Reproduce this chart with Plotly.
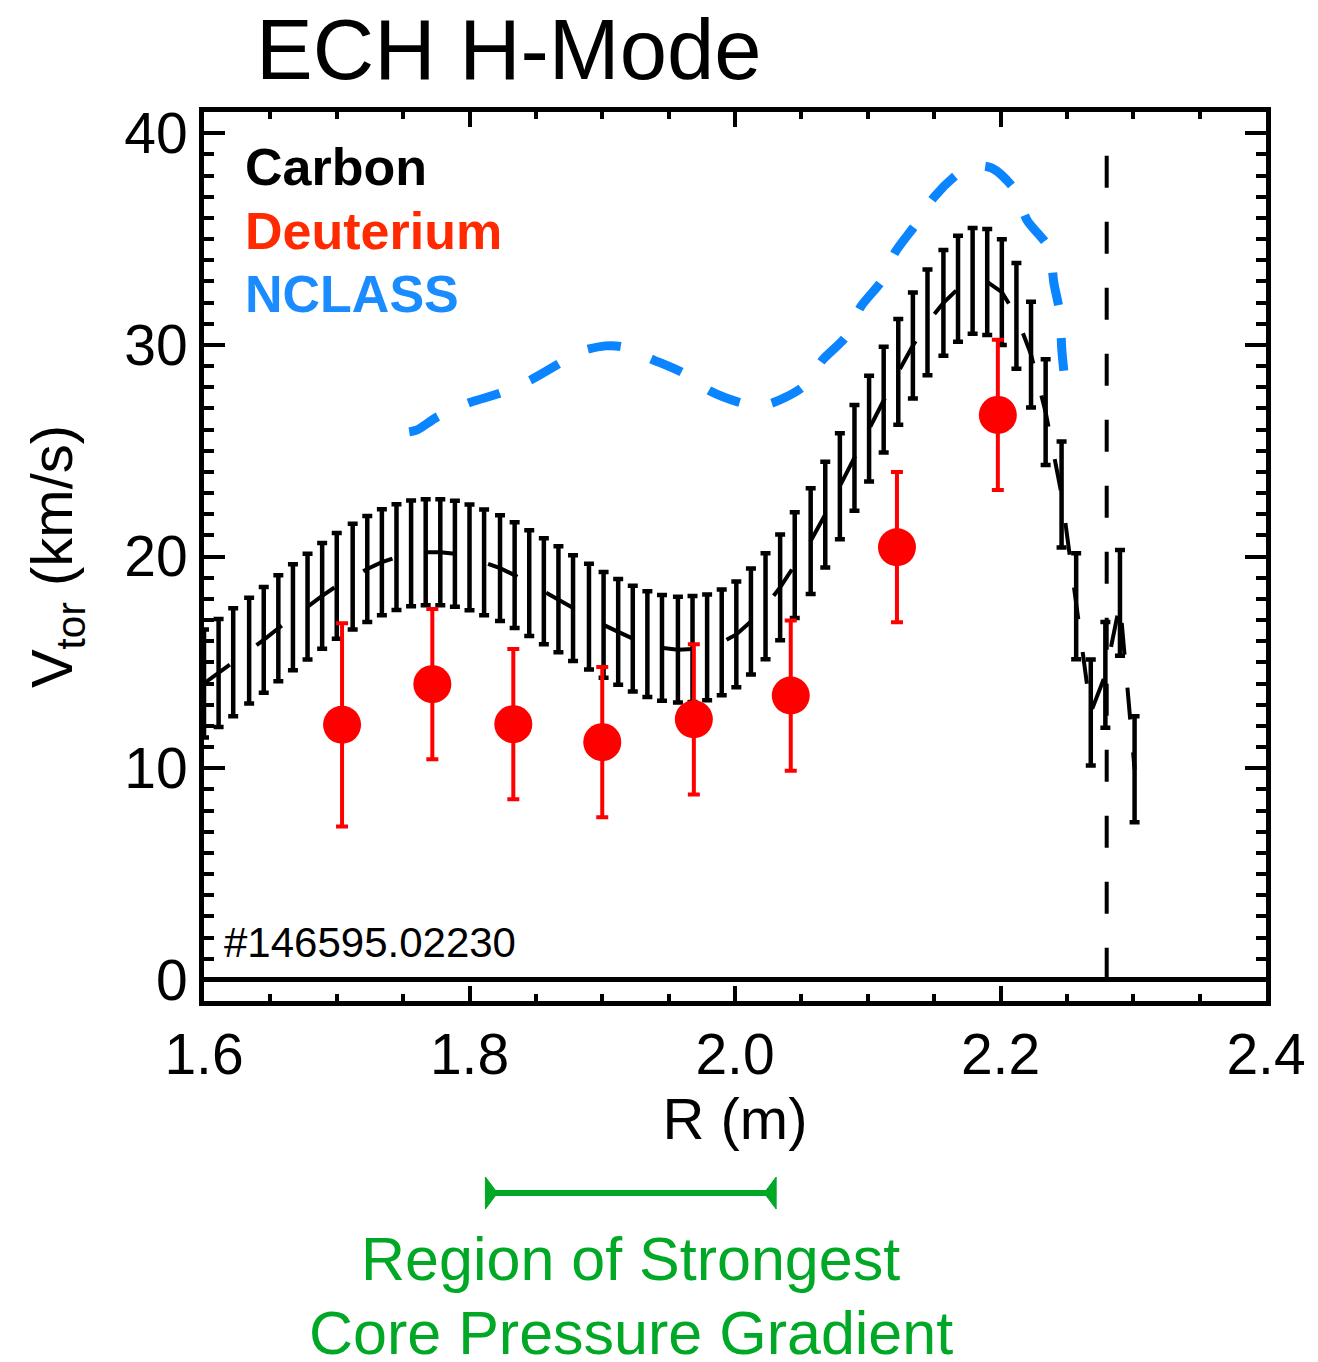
import plotly.graph_objects as go

# ---- Carbon toroidal rotation (CER), km/s, with uncertainties ----
carbon_r = [1.600, 1.611, 1.622, 1.634, 1.645, 1.656, 1.667, 1.678, 1.689, 1.700,
            1.712, 1.723, 1.734, 1.745, 1.756, 1.767, 1.778, 1.789, 1.800, 1.811,
            1.823, 1.834, 1.845, 1.856, 1.867, 1.878, 1.890, 1.901, 1.912, 1.923,
            1.934, 1.945, 1.957, 1.968, 1.979, 1.990, 2.001, 2.012, 2.023, 2.034,
            2.045, 2.057, 2.068, 2.079, 2.090, 2.101, 2.112, 2.123, 2.134, 2.145,
            2.157, 2.168, 2.179, 2.190, 2.201, 2.212, 2.223, 2.234, 2.246, 2.257,
            2.268, 2.279, 2.290, 2.301]
carbon_v = [14.0, 14.5, 15.0, 15.55, 16.06, 16.61, 17.13, 17.63, 18.14, 18.61,
            19.05, 19.41, 19.73, 19.97, 20.15, 20.20, 20.20, 20.13, 19.96, 19.72,
            19.45, 19.12, 18.74, 18.36, 17.98, 17.56, 17.16, 16.77, 16.44, 16.12,
            15.86, 15.68, 15.60, 15.63, 15.71, 15.94, 16.32, 16.93, 17.65, 18.54,
            19.59, 20.73, 21.98, 23.32, 24.66, 26.04, 27.41, 28.72, 29.97, 31.06,
            31.98, 32.65, 33.02, 32.97, 32.49, 31.37, 29.54, 26.82, 22.93, 17.65,
            12.63, 14.41, 17.81, 9.95]
carbon_err = [2.55, 2.55, 2.55, 2.5, 2.5, 2.5, 2.5, 2.5, 2.5, 2.5,
              2.5, 2.5, 2.5, 2.5, 2.5, 2.5, 2.5, 2.5, 2.5, 2.5,
              2.5, 2.5, 2.5, 2.5, 2.5, 2.5, 2.5, 2.5, 2.5, 2.5,
              2.5, 2.5, 2.5, 2.5, 2.5, 2.5, 2.5, 2.5, 2.5, 2.5,
              2.5, 2.5, 2.5, 2.5, 2.5, 2.5, 2.5, 2.5, 2.5, 2.5,
              2.5, 2.5, 2.5, 2.5, 2.5, 2.5, 2.5, 2.5, 2.5, 2.5,
              2.5, 2.5, 2.5, 2.5]

# ---- Main-ion (deuterium) rotation ----
deut_r = [1.704, 1.772, 1.833, 1.900, 1.969, 2.042, 2.122, 2.198]
deut_v = [12.05, 13.97, 12.08, 11.23, 12.31, 13.43, 20.44, 26.69]
deut_err = [4.8, 3.55, 3.55, 3.55, 3.55, 3.55, 3.55, 3.55]

# ---- NCLASS neoclassical prediction ----
nclass_r = [1.7546, 1.7606, 1.7756, 1.7996, 1.8236, 1.8461, 1.8672, 1.8822,
            1.9024, 1.9159, 1.9370, 1.9610, 1.9812, 2.0045, 2.0173, 2.0285,
            2.0510, 2.0660, 2.0833, 2.0946, 2.1111, 2.1208, 2.1358, 2.1501,
            2.1688, 2.1820, 2.1936, 2.2109, 2.2199, 2.2364, 2.2402, 2.2447,
            2.2462, 2.2484]
nclass_v = [25.89, 25.98, 26.59, 27.26, 27.73, 28.34, 29.10, 29.66,
            29.95, 29.90, 29.33, 28.67, 27.82, 27.26, 27.11, 27.26,
            28.01, 29.29, 30.37, 31.79, 33.07, 34.39, 35.66, 36.99,
            38.12, 38.45, 38.35, 37.32, 35.90, 34.58, 32.92, 31.51,
            29.76, 28.34]

# vertical reference line (plasma edge) and the strong-gradient span
edge_r = 2.28
edge_v = [0, 40]
gradient_span = [1.812, 2.031]

x_ticks = [1.6, 1.8, 2.0, 2.2, 2.4]
y_ticks = [0, 10, 20, 30, 40]

FONT = "Liberation Sans, Arial, Helvetica, sans-serif"
RED = "#FF0000"
BLUE = "#0A84FF"
GREEN = "#00A826"

fig = go.Figure()

fig.add_trace(go.Scatter(
    x=[edge_r, edge_r], y=edge_v, mode="lines",
    line=dict(color="black", width=4, dash="32px,34px"),
    showlegend=False, hoverinfo="skip"))

fig.add_trace(go.Scatter(
    x=carbon_r, y=carbon_v, mode="lines", name="Carbon",
    line=dict(color="black", width=4, dash="32px,33px"),
    error_y=dict(type="data", array=carbon_err, visible=True,
                 color="black", thickness=4.5, width=5),
    showlegend=False))

fig.add_trace(go.Scatter(
    x=deut_r, y=deut_v, mode="markers", name="Deuterium",
    marker=dict(color=RED, size=38, symbol="circle", line=dict(width=0)),
    error_y=dict(type="data", array=deut_err, visible=True,
                 color=RED, thickness=4, width=6),
    showlegend=False))

fig.add_trace(go.Scatter(
    x=nclass_r, y=nclass_v, mode="lines", name="NCLASS",
    line=dict(color=BLUE, width=9, dash="33px,33px", shape="spline", smoothing=0.8),
    showlegend=False))

# green span marker below the axis
bar_y = -0.216
fig.add_shape(type="line", xref="x", yref="paper",
              x0=gradient_span[0], x1=gradient_span[1], y0=bar_y, y1=bar_y,
              line=dict(color=GREEN, width=6))
fig.add_shape(type="path", xref="x", yref="paper",
              xsizemode="pixel", ysizemode="pixel",
              xanchor=gradient_span[0], yanchor=bar_y,
              path="M0,-16 L0,16 L12,0 Z",
              fillcolor=GREEN, line=dict(color=GREEN, width=1))
fig.add_shape(type="path", xref="x", yref="paper",
              xsizemode="pixel", ysizemode="pixel",
              xanchor=gradient_span[1], yanchor=bar_y,
              path="M0,-16 L0,16 L-12,0 Z",
              fillcolor=GREEN, line=dict(color=GREEN, width=1))

# in-plot labels
labels = [("Carbon", "black", 38.4), ("Deuterium", "#FF2A00", 35.4), ("NCLASS", "#1A8CFF", 32.4)]
for text, color, yv in labels:
    fig.add_annotation(x=1.629, y=yv, xref="x", yref="y", text=f"<b>{text}</b>",
                       showarrow=False, xanchor="left", yanchor="middle",
                       font=dict(family=FONT, size=52, color=color))

fig.add_annotation(x=1.6135, y=1.75, xref="x", yref="y", text="#146595.02230",
                   showarrow=False, xanchor="left", yanchor="middle",
                   font=dict(family=FONT, size=42, color="black"))

# caption under the span marker, one annotation per line
caption = [("Region of Strongest", -0.2500), ("Core Pressure Gradient", -0.3325)]
for text, yp in caption:
    fig.add_annotation(x=sum(gradient_span) / 2, y=yp, xref="x", yref="paper",
                       text=text, showarrow=False, xanchor="center", yanchor="top",
                       font=dict(family=FONT, size=61, color=GREEN))

axis_common = dict(
    showline=True, linecolor="black", linewidth=5, mirror="ticks",
    ticks="inside", tickcolor="black", tickwidth=4,
    showgrid=False,
    tickfont=dict(family=FONT, size=57, color="black"),
)

fig.update_xaxes(
    range=[1.6, 2.4], tickvals=x_ticks, ticktext=[f"{v:.1f}" for v in x_ticks],
    ticklen=15, zeroline=False,
    minor=dict(dtick=0.05, ticks="inside", ticklen=7, tickwidth=4, tickcolor="black",
               showgrid=False),
    title=dict(text="R (m)", font=dict(family=FONT, size=58, color="black"), standoff=8),
    **axis_common)

fig.update_yaxes(
    range=[-1, 41], tickvals=y_ticks, ticktext=[str(v) for v in y_ticks],
    ticklen=21, zeroline=True, zerolinecolor="black", zerolinewidth=5,
    minor=dict(dtick=1, ticks="inside", ticklen=10, tickwidth=4, tickcolor="black",
               showgrid=False),
    title=dict(text="V<sub>tor</sub> (km/s)", font=dict(family=FONT, size=58, color="black"),
               standoff=34),
    **axis_common)

fig.update_layout(
    width=1318, height=1362,
    margin=dict(l=204, r=47, t=112, b=361),
    paper_bgcolor="white", plot_bgcolor="white",
    title=dict(text="ECH H-Mode", x=0.287, xref="paper", xanchor="center",
               y=0.964, yref="container", yanchor="middle",
               font=dict(family=FONT, size=85, color="black")),
)

fig.write_html("out.html")
